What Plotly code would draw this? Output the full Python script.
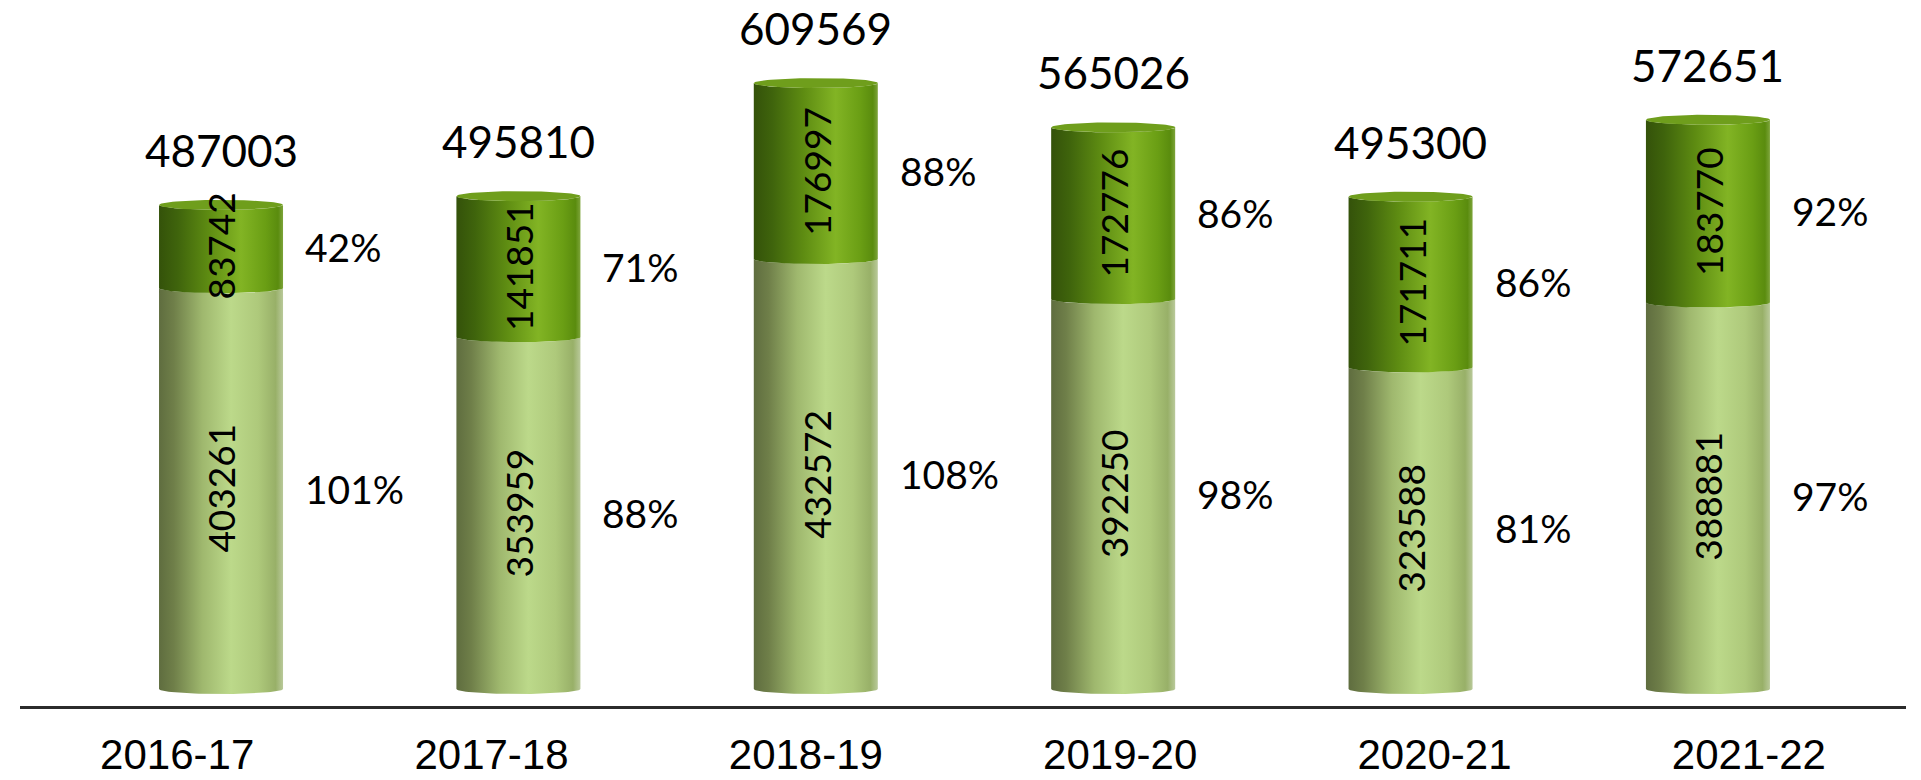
import numpy as np
import plotly.graph_objects as go

# Yearly figures: lower and upper stack segments, stated totals and the two percentage rows
years = ["2016-17", "2017-18", "2018-19", "2019-20", "2020-21", "2021-22"]
lower_vals = [403261, 353959, 432572, 392250, 323588, 388881]
upper_vals = [83742, 141851, 176997, 172776, 171711, 183770]
totals = [487003, 495810, 609569, 565026, 495300, 572651]
lower_pct = [101, 88, 108, 98, 81, 97]
upper_pct = [42, 71, 88, 86, 86, 92]

W, H = 1921, 780
M_L, M_R, M_T, M_B = 20, 15, 0, 74
Y_RANGE = [-17100, 693160]
X2_RANGE = [-0.676, 5.666]
HALF_W = 0.2085          # half cylinder width in x2 units
ELL_PX = 5               # vertical half-axis of the elliptical rims in pixels

plot_h = H - M_T - M_B
ry = ELL_PX * (Y_RANGE[1] - Y_RANGE[0]) / plot_h

LOWER_SCALE = [[0.0, "#5f6d3f"], [0.12, "#6f7f49"], [0.35, "#9fb86e"],
               [0.58, "#bcd98a"], [0.8, "#aec97b"], [0.94, "#98b068"], [1.0, "#b9c99a"]]
UPPER_SCALE = [[0.0, "#34520a"], [0.15, "#3f640c"], [0.4, "#5e8c12"],
               [0.66, "#82b424"], [0.86, "#6a9e14"], [0.96, "#5a8c0e"], [1.0, "#7da43a"]]


def cylinder_outline(xc, y0, y1):
    """Front outline of a cylinder section: lower rim arc, right side, upper rim arc."""
    t = np.linspace(np.pi, 2 * np.pi, 40)
    bx = xc + HALF_W * np.cos(t)
    by = y0 + ry * np.sin(t)
    tx = (xc + HALF_W * np.cos(t))[::-1]
    ty = (y1 + ry * np.sin(t))[::-1]
    xs = np.concatenate([bx, tx, [bx[0]]])
    ys = np.concatenate([by, ty, [by[0]]])
    return xs, ys


def rim(xc, y):
    t = np.linspace(0, 2 * np.pi, 80)
    return xc + HALF_W * np.cos(t), y + ry * np.sin(t)


fig = go.Figure()

# invisible trace so the category axis carries the year labels
fig.add_trace(go.Scatter(x=years, y=[0] * len(years), mode="markers",
                         marker=dict(opacity=0), hoverinfo="skip",
                         showlegend=False, xaxis="x", yaxis="y"))

for i in range(len(years)):
    lo = lower_vals[i]
    hi = lower_vals[i] + upper_vals[i]

    xs, ys = cylinder_outline(i, 0, lo)
    fig.add_trace(go.Scatter(x=xs, y=ys, mode="lines", line=dict(width=0),
                             fill="toself",
                             fillgradient=dict(type="horizontal", colorscale=LOWER_SCALE),
                             hoverinfo="skip", showlegend=False,
                             xaxis="x2", yaxis="y"))

    xs, ys = cylinder_outline(i, lo, hi)
    fig.add_trace(go.Scatter(x=xs, y=ys, mode="lines", line=dict(width=0),
                             fill="toself",
                             fillgradient=dict(type="horizontal", colorscale=UPPER_SCALE),
                             hoverinfo="skip", showlegend=False,
                             xaxis="x2", yaxis="y"))

    # top cap
    cx, cy = rim(i, hi)
    fig.add_trace(go.Scatter(x=cx, y=cy, mode="lines", line=dict(width=0),
                             fill="toself", fillcolor="#6f9e1c",
                             hoverinfo="skip", showlegend=False,
                             xaxis="x2", yaxis="y"))

annotations = []
VAL_FONT = "Lato, 'Open Sans', sans-serif"
for i in range(len(years)):
    lo = lower_vals[i]
    hi = lower_vals[i] + upper_vals[i]
    annotations.append(dict(xref="x2", yref="y", x=i, y=totals[i], text=str(totals[i]),
                            showarrow=False, yshift=55,
                            font=dict(family=VAL_FONT, size=44, color="#000")))
    annotations.append(dict(xref="x2", yref="y", x=i, y=lo / 2, text=str(lower_vals[i]),
                            showarrow=False, textangle=-90,
                            font=dict(family=VAL_FONT, size=37, color="#000")))
    annotations.append(dict(xref="x2", yref="y", x=i, y=(lo + hi) / 2, text=str(upper_vals[i]),
                            showarrow=False, textangle=-90,
                            font=dict(family=VAL_FONT, size=37, color="#000")))
    annotations.append(dict(xref="x2", yref="y", x=i + HALF_W, y=lo / 2,
                            text=f"{lower_pct[i]}%", showarrow=False,
                            xanchor="left", xshift=20,
                            font=dict(family=VAL_FONT, size=39, color="#000")))
    annotations.append(dict(xref="x2", yref="y", x=i + HALF_W, y=(lo + hi) / 2,
                            text=f"{upper_pct[i]}%", showarrow=False,
                            xanchor="left", xshift=20,
                            font=dict(family=VAL_FONT, size=39, color="#000")))

fig.update_layout(
    width=W, height=H,
    margin=dict(l=M_L, r=M_R, t=M_T, b=M_B, autoexpand=False),
    paper_bgcolor="white", plot_bgcolor="white",
    showlegend=False,
    xaxis=dict(type="category", range=[-0.5, 5.5], showgrid=False, zeroline=False,
               showline=True, linecolor="#2b2b2b", linewidth=3, ticks="",
               automargin=False, ticklabelstandoff=10,
               tickfont=dict(family="'Liberation Sans', Arial, sans-serif",
                             size=42, color="#000"),
               fixedrange=True),
    xaxis2=dict(overlaying="x", range=X2_RANGE, visible=False, fixedrange=True),
    yaxis=dict(range=Y_RANGE, visible=False, showgrid=False, zeroline=False,
               automargin=False, fixedrange=True),
    annotations=annotations,
)

fig.write_html("out.html")
